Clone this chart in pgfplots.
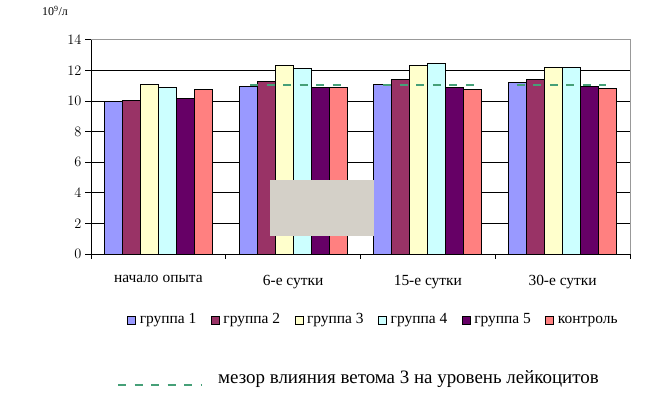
\documentclass[border=0pt]{standalone}
\usepackage{fontspec}
\setmainfont{Liberation Serif}
\newfontfamily\arialf{Liberation Sans}
\usepackage{pgfplots}
\pgfplotsset{compat=1.18}
\usepackage{pgfplotstable}
\definecolor{c1}{HTML}{9999FF}
\definecolor{c2}{HTML}{993366}
\definecolor{c3}{HTML}{FFFFCC}
\definecolor{c4}{HTML}{CCFFFF}
\definecolor{c5}{HTML}{660066}
\definecolor{c6}{HTML}{FF8080}
\definecolor{mezor}{RGB}{70,160,120}
\definecolor{occl}{RGB}{212,208,200}
\pgfplotstableread{
x g1 g2 g3 g4 g5 k
0 10.00 10.05 11.10 10.90 10.18 10.77
1 10.97 11.30 12.36 12.14 10.90 10.86
2 11.10 11.42 12.36 12.43 10.90 10.77
3 11.23 11.42 12.20 12.20 10.97 10.84
}\data
\pgfplotsset{/pgfplots/ybar legend/.style={/pgfplots/legend image code/.code={\draw[##1,draw=black,line width=0.6bp] (0bp,-4bp) rectangle (8bp,4bp);}}}
\begin{document}
\begin{tikzpicture}[x=1bp,y=1bp]
\useasboundingbox (0,0) rectangle (648,393);
\begin{axis}[at={(91bp,139bp)}, anchor=south west, scale only axis,
  width=539bp, height=214bp,
  ymin=0, ymax=14, ytick={0,2,...,14},
  xmin=-0.5, xmax=3.5, xtick={0,1,2,3},
  xticklabels={начало опыта,6-е сутки,15-е сутки,30-е сутки},
  ybar=0pt, bar width=18bp,
  axis x line*=bottom, axis y line*=left,
  axis line style={line width=1bp},
  ymajorgrids, grid style={black, line width=1bp},
  major tick length=6bp, tick align=outside,
  ytick style={line width=1bp, black},
  xtick style={draw=none},
  y tick label style={font=\arialf\fontsize{14}{14}\selectfont, xshift=0bp},
  x tick label style={font=\fontsize{15.5}{15.5}\selectfont, yshift=-12bp},
  legend columns=6,
  legend style={draw=none, fill=none, at={(0.524,-0.308)}, anchor=center,
    font=\fontsize{15.5}{15.5}\selectfont, inner sep=0pt,
    nodes={text height=10bp, text depth=3.5bp},
    /tikz/every even column/.append style={column sep=12.5bp},
    /tikz/every odd column/.append style={column sep=2bp}},
  legend cell align=left,
  clip=false,
]
\addplot[fill=c1, draw=black, line width=1bp] table[x=x,y=g1]{\data};
\addplot[fill=c2, draw=black, line width=1bp] table[x=x,y=g2]{\data};
\addplot[fill=c3, draw=black, line width=1bp] table[x=x,y=g3]{\data};
\addplot[fill=c4, draw=black, line width=1bp] table[x=x,y=g4]{\data};
\addplot[fill=c5, draw=black, line width=1bp] table[x=x,y=g5]{\data};
\addplot[fill=c6, draw=black, line width=1bp] table[x=x,y=k]{\data};
\legend{группа 1,группа 2,группа 3,группа 4,группа 5,контроль}
\addplot[sharp plot, mezor, line width=2bp, dash pattern=on 8bp off 8.5bp, forget plot, unbounded coords=jump]
  coordinates {(0.68,11.03) (1.36,11.03) (1.5,nan) (1.67,11.03) (2.34,11.03) (2.5,nan) (2.66,11.03) (3.32,11.03)};
\fill[occl] (axis cs:0.828,1.18) rectangle (axis cs:1.600,4.84);
\draw[gray!80, line width=1bp] (rel axis cs:0,1) -- (rel axis cs:1,1) -- (rel axis cs:1,0);
\pgfplotsinvokeforeach{-0.5,0.5,1.5,2.5,3.5}{
  \draw[black, line width=1bp] (axis cs:#1,0) -- ([yshift=-5bp]axis cs:#1,0);
}
\end{axis}
\node[font=\fontsize{12}{12}\selectfont] at (55,382) {10\textsuperscript{9}/л};
\draw[mezor, line width=2bp, dash pattern=on 8bp off 8.5bp] (118,8) -- (202,8);
\node[anchor=base west, font=\fontsize{19}{19}\selectfont, inner sep=0pt] at (218,10) {мезор влияния ветома 3 на уровень лейкоцитов};
\end{tikzpicture}
\end{document}
